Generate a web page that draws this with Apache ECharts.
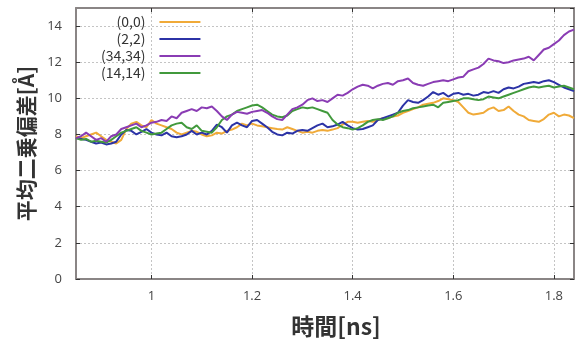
<!DOCTYPE html>
<html>
<head>
<meta charset="utf-8">
<script src="https://cdn.jsdelivr.net/npm/echarts@6/dist/echarts.min.js"></script>
<style>html,body{margin:0;padding:0;background:#fff}#c{width:581px;height:343px}</style>
</head>
<body>
<div id="c"></div>
<script>
const times = [0.85,0.86,0.87,0.88,0.89,0.90,0.91,0.92,0.93,0.94,0.95,0.96,0.97,0.98,0.99,
1.00,1.01,1.02,1.03,1.04,1.05,1.06,1.07,1.08,1.09,1.10,1.11,1.12,1.13,1.14,1.15,1.16,1.17,1.18,1.19,
1.20,1.21,1.22,1.23,1.24,1.25,1.26,1.27,1.28,1.29,1.30,1.31,1.32,1.33,1.34,1.35,1.36,1.37,1.38,1.39,
1.40,1.41,1.42,1.43,1.44,1.45,1.46,1.47,1.48,1.49,1.50,1.51,1.52,1.53,1.54,1.55,1.56,1.57,1.58,1.59,
1.60,1.61,1.62,1.63,1.64,1.65,1.66,1.67,1.68,1.69,1.70,1.71,1.72,1.73,1.74,1.75,1.76,1.77,1.78,1.79,
1.80,1.81,1.82,1.83,1.84];

const seriesNames = ['(0,0)', '(2,2)', '(34,34)', '(14,14)'];

const rmsd00 = [7.9,7.8,7.9,8.0,8.1,7.9,7.7,7.6,7.5,7.7,8.3,8.6,8.7,8.5,8.4,
8.8,8.6,8.5,8.4,8.3,8.1,8.0,8.1,8.2,8.15,8.0,7.9,7.95,8.1,8.05,8.2,8.27,8.4,8.6,8.5,
8.6,8.5,8.45,8.4,8.35,8.3,8.27,8.4,8.3,8.2,8.1,8.15,8.1,8.2,8.25,8.2,8.27,8.35,8.55,8.7,
8.7,8.65,8.7,8.75,8.7,8.8,8.9,8.9,9.0,9.05,9.2,9.3,9.4,9.5,9.65,9.7,9.75,9.85,10.0,9.95,
9.9,9.8,9.5,9.2,9.1,9.15,9.2,9.4,9.5,9.3,9.35,9.55,9.3,9.1,9.0,8.8,8.75,8.7,8.85,9.1,
9.2,9.0,9.1,9.05,8.9];

const rmsd22 = [7.8,7.75,7.7,7.6,7.5,7.55,7.45,7.5,7.6,8.0,8.25,8.2,8.0,8.15,8.3,
8.1,8.0,7.95,8.1,7.9,7.85,7.9,8.0,8.2,8.0,8.1,8.0,8.2,8.55,8.4,8.1,8.5,8.65,8.5,8.4,
8.75,8.8,8.6,8.4,8.15,8.0,7.95,8.1,8.05,8.2,8.25,8.2,8.35,8.5,8.6,8.4,8.45,8.55,8.7,8.5,
8.35,8.27,8.3,8.4,8.5,8.8,8.9,9.0,9.1,9.2,9.6,9.9,9.8,9.75,9.9,10.1,10.35,10.2,10.3,10.1,
10.25,10.3,10.2,10.25,10.15,10.2,10.35,10.3,10.4,10.3,10.5,10.6,10.55,10.65,10.8,10.85,10.9,10.85,10.95,11.0,
10.9,10.75,10.6,10.5,10.4];

const rmsd3434 = [7.8,7.9,8.1,7.9,7.7,7.8,7.6,7.9,8.0,8.3,8.4,8.5,8.6,8.4,8.5,
8.65,8.7,8.8,8.75,9.0,8.9,9.2,9.3,9.4,9.3,9.5,9.45,9.55,9.3,9.0,8.8,9.1,9.25,9.2,9.15,
9.25,9.3,9.35,9.2,9.0,8.85,8.8,9.1,9.4,9.5,9.65,9.9,10.0,9.85,9.9,9.8,10.0,10.2,10.15,10.3,
10.5,10.65,10.75,10.7,10.55,10.7,10.8,10.85,10.75,10.95,11.0,11.1,10.85,10.75,10.7,10.8,10.9,10.95,11.0,10.95,
11.05,11.15,11.2,11.5,11.6,11.7,11.9,12.2,12.1,12.05,11.95,12.0,12.1,12.15,12.2,12.3,12.1,12.4,12.7,12.8,
13.0,13.2,13.5,13.7,13.8];

const rmsd1414 = [7.8,7.7,7.75,7.6,7.65,7.6,7.55,7.7,7.9,8.1,8.2,8.3,8.4,8.2,8.1,
8.0,8.05,8.1,8.3,8.5,8.6,8.65,8.4,8.3,8.5,8.2,8.15,8.1,8.4,8.8,9.0,9.1,9.3,9.4,9.5,
9.6,9.65,9.5,9.3,9.1,9.0,8.95,9.05,9.3,9.4,9.5,9.45,9.5,9.4,9.3,9.2,8.8,8.55,8.4,8.35,
8.27,8.35,8.5,8.7,8.8,8.85,8.8,8.9,9.0,9.2,9.3,9.35,9.45,9.5,9.55,9.6,9.65,9.5,9.75,9.8,
9.85,9.9,10.0,10.0,9.95,9.9,9.95,10.1,10.05,10.0,10.1,10.2,10.3,10.4,10.5,10.6,10.65,10.6,10.65,10.7,
10.6,10.65,10.7,10.6,10.5];

const xTicks = [1, 1.2, 1.4, 1.6, 1.8];
const yTicks = [0, 2, 4, 6, 8, 10, 12, 14];

const colors = ['#f0aa38', '#2c33a6', '#8a3cb4', '#41993c'];
const allData = [rmsd00, rmsd22, rmsd3434, rmsd1414];

const chart = echarts.init(document.getElementById('c'));
const frameColor = '#8a8585';
const tickFont = {color: '#444', fontSize: 13, fontFamily: 'Open Sans, sans-serif'};
const gridLine = {show: true, lineStyle: {color: '#c4c4c4', type: [2, 2], width: 1}};

const series = allData.map((vals, i) => ({
  name: seriesNames[i],
  type: 'line',
  xAxisIndex: 0, yAxisIndex: 0,
  data: vals.map((v, k) => [times[k], v]),
  showSymbol: false,
  symbol: 'none',
  lineStyle: {color: colors[i], width: 2},
  itemStyle: {color: colors[i]},
  z: i === 2 ? 3 : 2
}));

chart.setOption({
  animation: false,
  grid: {left: 76, right: 7, top: 8, bottom: 63, containLabel: false},
  legend: {
    orient: 'vertical', align: 'right', left: 96, top: 10,
    itemWidth: 41, itemHeight: 14, itemGap: 3,
    data: seriesNames,
    itemStyle: {opacity: 0},
    textStyle: {fontSize: 14, color: '#333', fontFamily: 'Noto Sans CJK JP, sans-serif', padding: [0, 9, 0, 0]}
  },
  xAxis: [{
    type: 'value', min: 0.85, max: 1.84,
    name: '時間[ns]', nameLocation: 'middle', nameGap: 36,
    nameTextStyle: {fontSize: 23, fontWeight: 'bold', color: '#333', fontFamily: 'Noto Sans CJK JP, sans-serif', padding: [0, 0, 0, 22]},
    axisLine: {show: true, onZero: false, lineStyle: {color: frameColor, width: 2}},
    axisTick: {show: true, inside: true, length: 4, customValues: xTicks, lineStyle: {color: '#333'}},
    axisLabel: Object.assign({margin: 11, customValues: xTicks, formatter: v => String(v)}, tickFont),
    splitLine: gridLine
  }, {
    type: 'value', min: 0.85, max: 1.84, position: 'top',
    axisLine: {show: true, onZero: false, lineStyle: {color: frameColor, width: 2}},
    axisTick: {show: true, inside: true, length: 4, customValues: xTicks, lineStyle: {color: '#333'}},
    axisLabel: {show: false}, splitLine: {show: false}
  }],
  yAxis: [{
    type: 'value', min: 0, max: 15, interval: 2,
    name: '平均二乗偏差[Å]', nameLocation: 'middle', nameGap: 31, nameRotate: 90,
    nameTextStyle: {fontSize: 21, fontWeight: 'bold', color: '#333', fontFamily: 'Noto Sans CJK JP, sans-serif'},
    axisLine: {show: true, onZero: false, lineStyle: {color: frameColor, width: 2}},
    axisTick: {show: true, inside: true, length: 4, lineStyle: {color: '#333'}},
    axisLabel: Object.assign({margin: 14, showMaxLabel: false,
      formatter: v => yTicks.indexOf(v) >= 0 ? String(v) : ''}, tickFont),
    splitLine: gridLine
  }, {
    type: 'value', min: 0, max: 15, interval: 2, position: 'right',
    axisLine: {show: true, onZero: false, lineStyle: {color: frameColor, width: 2}},
    axisTick: {show: true, inside: true, length: 4, lineStyle: {color: '#333'}},
    axisLabel: {show: false}, splitLine: {show: false}
  }],
  series: series
});
</script>
</body>
</html>
